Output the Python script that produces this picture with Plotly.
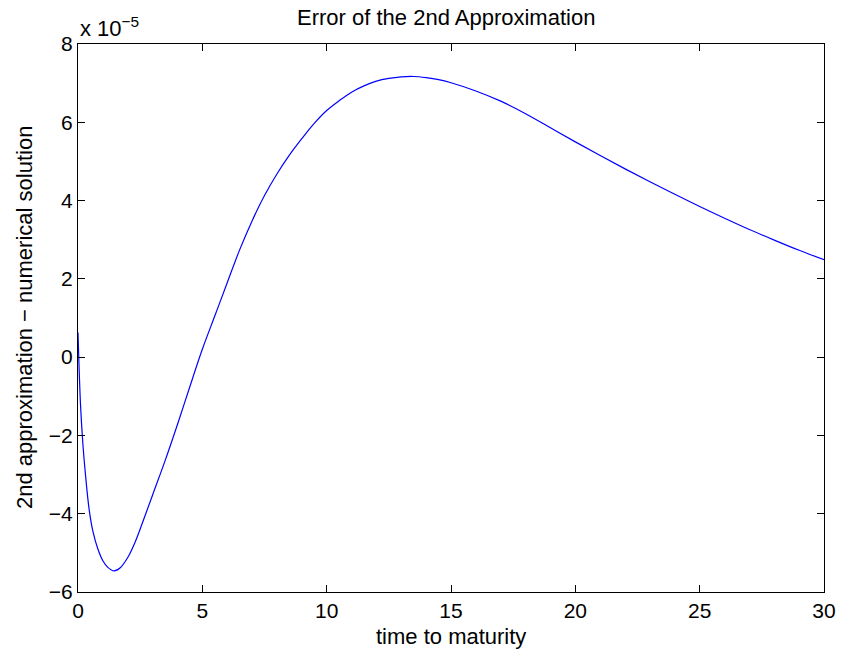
import plotly.graph_objects as go

# Error of the second-order approximation versus time to maturity
SCALE = 1e-5
time_to_maturity = [0.0, 0.1, 0.2, 0.3, 0.45, 0.6, 0.8, 1.0, 1.2, 1.45, 1.7, 2.0,
                    2.3, 2.6, 3.0, 3.5, 4.0, 4.5, 5.0, 5.5, 6.0, 6.5, 7.0, 7.5,
                    8.0, 8.5, 9.0, 9.5, 10.0, 10.5, 11.0, 11.5, 12.0, 12.5, 13.0,
                    13.5, 14.0, 14.5, 15.0, 16.0, 17.0, 18.0, 19.0, 20.0, 21.0,
                    22.0, 23.0, 24.0, 25.0, 26.0, 27.0, 28.0, 29.0, 30.0]
error_e5 = [0.63, -1.2, -2.25, -3.0, -3.9, -4.45, -4.9, -5.2, -5.37, -5.46, -5.38, -5.12,
            -4.72, -4.22, -3.52, -2.65, -1.72, -0.75, 0.2, 1.05, 1.9, 2.74, 3.48, 4.13,
            4.68, 5.16, 5.58, 5.97, 6.3, 6.55, 6.77, 6.93, 7.05, 7.12, 7.16,
            7.17, 7.14, 7.09, 7.01, 6.8, 6.54, 6.22, 5.86, 5.50, 5.15,
            4.81, 4.48, 4.16, 3.85, 3.55, 3.26, 2.99, 2.73, 2.49]

x_ticks = [0, 5, 10, 15, 20, 25, 30]
y_ticks_e5 = [-6, -4, -2, 0, 2, 4, 6, 8]

FONT = "Liberation Sans, Arial, sans-serif"
TICK_SIZE = 21
TEXT_SIZE = 22

# plot-area geometry in pixels
W, H = 841, 652
ML, MR, MT, MB = 78, 17, 44, 60
PW, PH = W - ML - MR, H - MT - MB

fig = go.Figure(
    go.Scatter(
        x=time_to_maturity,
        y=[v * SCALE for v in error_e5],
        mode="lines",
        line=dict(color="#0000ff", width=1.2, shape="spline", smoothing=1.0),
        hoverinfo="x+y",
    )
)

axis_common = dict(
    showgrid=False,
    zeroline=False,
    showline=True,
    linecolor="black",
    linewidth=1.3,
    mirror="ticks",
    ticks="inside",
    ticklen=7,
    tickcolor="black",
    tickwidth=1,
    automargin=False,
    tickfont=dict(family=FONT, size=TICK_SIZE, color="black"),
)

fig.update_xaxes(
    range=[0, 30],
    tickvals=x_ticks,
    ticktext=[str(t) for t in x_ticks],
    **axis_common,
)
fig.update_yaxes(
    range=[-6 * SCALE, 8 * SCALE],
    tickvals=[v * SCALE for v in y_ticks_e5],
    ticktext=[str(v).replace("-", "\u2212") for v in y_ticks_e5],
    **axis_common,
)

text_font = dict(family=FONT, size=TEXT_SIZE, color="black")

fig.update_layout(
    width=W,
    height=H,
    margin=dict(l=ML, r=MR, t=MT, b=MB, autoexpand=False),
    paper_bgcolor="white",
    plot_bgcolor="white",
    showlegend=False,
    annotations=[
        # title
        dict(text="Error of the 2nd Approximation",
             xref="paper", yref="paper",
             x=(446 - ML) / PW, y=1 + (MT - 17) / PH,
             xanchor="center", yanchor="middle",
             showarrow=False, font=text_font),
        # x-axis title
        dict(text="time to maturity",
             xref="paper", yref="paper",
             x=0.5, y=-(636 - MT - PH) / PH,
             xanchor="center", yanchor="middle",
             showarrow=False, font=text_font),
        # y-axis title
        dict(text="2nd approximation \u2212 numerical solution",
             xref="paper", yref="paper",
             x=(24 - ML) / PW, y=0.5,
             xanchor="center", yanchor="middle", textangle=-90,
             showarrow=False, font=text_font),
        # exponent of the y-axis scale
        dict(text="x 10<sup>\u22125</sup>",
             xref="paper", yref="paper",
             x=0, y=1,
             xanchor="left", yanchor="bottom",
             yshift=1,
             showarrow=False, font=text_font),
    ],
)

fig.write_html("out.html")
